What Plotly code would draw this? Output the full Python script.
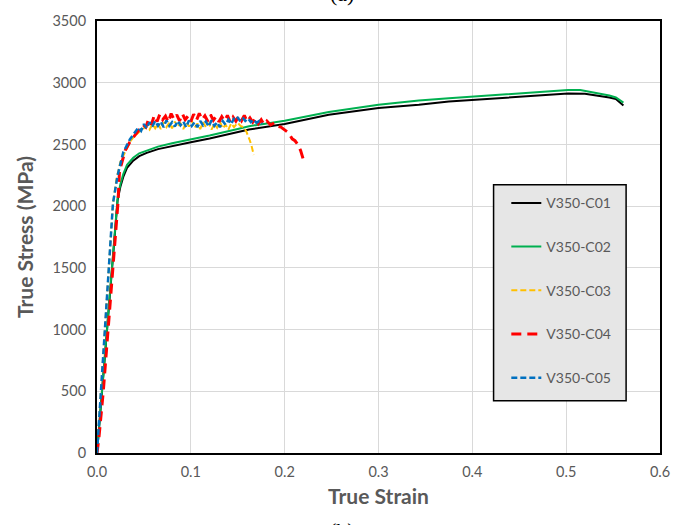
import plotly.graph_objects as go

# ---- True stress / true strain data for five V350 specimens ----
strain_c01 = [0, 0.005, 0.010, 0.015, 0.020, 0.022, 0.025, 0.028, 0.032, 0.0386, 0.045, 0.053,
              0.065, 0.080, 0.100, 0.120, 0.150, 0.162, 0.200, 0.247, 0.300, 0.343, 0.375,
              0.401, 0.450, 0.502, 0.520, 0.530, 0.546, 0.553, 0.561]
stress_c01 = [0, 480, 965, 1450, 1930, 2050, 2160, 2237, 2310, 2368, 2405, 2432,
              2462, 2488, 2518, 2548, 2600, 2621, 2665, 2741, 2795, 2821, 2847,
              2861, 2888, 2912, 2911, 2900, 2880, 2868, 2815]

strain_c02 = [0, 0.005, 0.010, 0.015, 0.020, 0.022, 0.025, 0.028, 0.032, 0.0386, 0.045, 0.053,
              0.065, 0.080, 0.100, 0.120, 0.150, 0.162, 0.200, 0.247, 0.300, 0.343, 0.375,
              0.401, 0.450, 0.502, 0.515, 0.530, 0.546, 0.553, 0.561]
stress_c02 = [0, 485, 975, 1465, 1950, 2070, 2180, 2260, 2335, 2392, 2428, 2452,
              2482, 2510, 2541, 2572, 2625, 2648, 2692, 2762, 2821, 2855, 2874,
              2888, 2915, 2941, 2940, 2922, 2897, 2880, 2839]

strain_c03 = [0, 0.004, 0.008, 0.012, 0.017, 0.021, 0.025, 0.030, 0.035, 0.040, 0.045, 0.050,
              0.053, 0.056, 0.059, 0.062, 0.065, 0.068, 0.071, 0.074, 0.077, 0.080, 0.083,
              0.086, 0.089, 0.092, 0.095, 0.098, 0.101, 0.104, 0.107, 0.110, 0.113, 0.116,
              0.119, 0.122, 0.125, 0.128, 0.131, 0.134, 0.137, 0.140, 0.143, 0.146, 0.150,
              0.153, 0.156, 0.159, 0.161, 0.163, 0.165, 0.167]
stress_c03 = [0, 480, 960, 1440, 2020, 2230, 2360, 2440, 2520, 2570, 2600, 2625,
              2650, 2620, 2665, 2630, 2670, 2625, 2680, 2640, 2675, 2630, 2685,
              2640, 2670, 2625, 2680, 2645, 2690, 2635, 2670, 2625, 2680, 2640,
              2675, 2620, 2665, 2635, 2685, 2630, 2660, 2620, 2670, 2640, 2675,
              2650, 2640, 2607, 2575, 2530, 2480, 2415]

strain_c04 = [0, 0.002, 0.0067, 0.012, 0.017, 0.0223, 0.024, 0.027, 0.030, 0.035, 0.040,
              0.045, 0.049, 0.052, 0.055, 0.058, 0.061, 0.064, 0.067, 0.070, 0.073, 0.076,
              0.079, 0.082, 0.085, 0.088, 0.091, 0.094, 0.097, 0.100, 0.103, 0.106, 0.109,
              0.112, 0.115, 0.118, 0.121, 0.124, 0.127, 0.130, 0.133, 0.136, 0.139, 0.142,
              0.145, 0.148, 0.151, 0.154, 0.157, 0.160, 0.163, 0.166, 0.169, 0.172, 0.175,
              0.178, 0.181, 0.185, 0.189, 0.192, 0.196, 0.200, 0.204, 0.208, 0.211, 0.214,
              0.217, 0.220]
stress_c04 = [0, 120, 500, 1000, 1500, 2022, 2285, 2380, 2450, 2520, 2575,
              2620, 2660, 2640, 2705, 2660, 2735, 2685, 2745, 2700, 2730, 2680,
              2750, 2705, 2740, 2690, 2748, 2700, 2730, 2685, 2745, 2695, 2752,
              2700, 2732, 2688, 2742, 2695, 2728, 2683, 2725, 2690, 2735, 2680,
              2722, 2688, 2728, 2692, 2735, 2685, 2715, 2680, 2712, 2668, 2700,
              2662, 2690, 2658, 2675, 2648, 2640, 2615, 2595, 2545, 2530, 2500,
              2450, 2375]

strain_c05 = [0, 0.004, 0.008, 0.012, 0.017, 0.022, 0.028, 0.035, 0.040, 0.044, 0.047,
              0.050, 0.053, 0.056, 0.059, 0.062, 0.065, 0.068, 0.071, 0.074, 0.077, 0.080,
              0.083, 0.086, 0.089, 0.092, 0.095, 0.098, 0.101, 0.104, 0.107, 0.110, 0.113,
              0.116, 0.119, 0.122, 0.125, 0.128, 0.131, 0.134, 0.137, 0.140, 0.143, 0.146,
              0.149, 0.152, 0.155, 0.158, 0.161, 0.164, 0.167, 0.170, 0.173, 0.176]
stress_c05 = [0, 490, 980, 1470, 2022, 2250, 2437, 2540, 2600, 2637, 2610,
              2665, 2630, 2680, 2645, 2690, 2650, 2685, 2640, 2695, 2650, 2680,
              2645, 2690, 2655, 2685, 2640, 2695, 2650, 2680, 2640, 2690, 2655,
              2685, 2645, 2695, 2650, 2680, 2640, 2690, 2660, 2700, 2665, 2710,
              2727, 2695, 2720, 2690, 2710, 2680, 2700, 2675, 2690, 2667]

series_names = ["V350-C01", "V350-C02", "V350-C03", "V350-C04", "V350-C05"]
series_strain = [strain_c01, strain_c02, strain_c03, strain_c04, strain_c05]
series_stress = [stress_c01, stress_c02, stress_c03, stress_c04, stress_c05]

line_styles = [
    dict(color="#000000", width=2, dash="solid"),
    dict(color="#00b050", width=2, dash="solid"),
    dict(color="#ffc000", width=2, dash="6px,3px"),
    dict(color="#ff0000", width=3, dash="10px,6px"),
    dict(color="#0070c0", width=2.5, dash="6px,3px"),
]

x_ticks = [0.0, 0.1, 0.2, 0.3, 0.4, 0.5, 0.6]
y_ticks = [0, 500, 1000, 1500, 2000, 2500, 3000, 3500]

fig = go.Figure()
for i, (name, xs, ys, ls) in enumerate(zip(series_names, series_strain, series_stress, line_styles)):
    fig.add_trace(go.Scatter(x=xs, y=ys, mode="lines", name=name, line=ls,
                             legendgroup=f"g{i}"))

TXT = "#595959"
axis_common = dict(showline=True, linecolor="black", linewidth=2, mirror=True,
                   showgrid=True, gridcolor="#d9d9d9", gridwidth=1, zeroline=False,
                   ticks="", tickfont=dict(family="Lato", size=14.5, color=TXT))

fig.update_layout(
    width=682, height=525,
    margin=dict(l=97, r=20, t=15, b=72),
    paper_bgcolor="white", plot_bgcolor="white",
    xaxis=dict(range=[0, 0.6], tickvals=x_ticks, tickformat=".1f", ticklabelstandoff=5,
               title=dict(text="True Strain", font=dict(family="Lato", size=21, color=TXT, weight="bold"),
                          standoff=10),
               **axis_common),
    yaxis=dict(range=[0, 3500], tickvals=y_ticks, ticklabelstandoff=6,
               title=dict(text="True Stress (MPa)", font=dict(family="Lato", size=21, color=TXT, weight="bold"),
                          standoff=13),
               **axis_common),
    showlegend=True,
    legend=dict(x=0.727, y=0.615, xanchor="left", yanchor="top",
                bgcolor="rgba(0,0,0,0)", borderwidth=0,
                font=dict(family="Lato", size=14, color=TXT),
                tracegroupgap=22.5, itemwidth=30),
    shapes=[dict(type="rect", xref="paper", yref="paper",
                 x0=0.7044, x1=0.9398, y0=0.1210, y1=0.6210,
                 fillcolor="#e6e6e6", line=dict(color="black", width=1.5), layer="above")],
    annotations=[
        dict(text="(a)", xref="paper", yref="paper", x=0.436, y=1.0 + 13 / 438,
             yanchor="bottom", xanchor="center", showarrow=False,
             font=dict(family="Liberation Serif", size=22, color="black")),
        dict(text="(b)", xref="paper", yref="paper", x=0.436, y=-(517 - 453) / 438,
             yanchor="top", xanchor="center", showarrow=False,
             font=dict(family="Liberation Serif", size=22, color="black")),
    ],
)

fig.write_html("out.html")
